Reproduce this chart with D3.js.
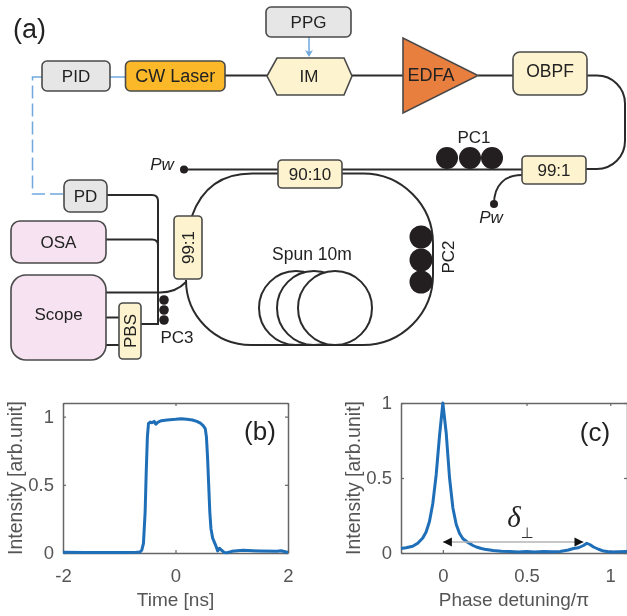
<!DOCTYPE html>
<html><head><meta charset="utf-8">
<script src="https://cdn.jsdelivr.net/npm/d3@7/dist/d3.min.js"></script>
<style>html,body{margin:0;padding:0;background:#fff;overflow:hidden}svg{display:block;filter:blur(0.45px)}text{font-family:"Liberation Sans",Arial,sans-serif}</style>
</head><body><svg id="c" width="627" height="616" viewBox="0 0 627 616"></svg>
<script>
// Panel (b) pulse
const timeNs=[-2,-1.6,-1.2,-0.9,-0.7,-0.63,-0.6,-0.57,-0.54,-0.52,-0.5,-0.48,-0.45,-0.42,-0.38,-0.35,-0.31,-0.25,-0.15,0,0.1,0.2,0.3,0.38,0.45,0.5,0.53,0.55,0.57,0.59,0.61,0.63,0.66,0.69,0.72,0.75,0.78,0.82,0.87,0.92,1.0,1.2,1.5,1.8,1.88,2];
const pulse=[0.005,0.004,0.003,0.004,0.005,0.008,0.02,0.07,0.3,0.6,0.85,0.95,0.96,0.955,0.965,0.945,0.96,0.97,0.975,0.98,0.985,0.98,0.975,0.965,0.95,0.93,0.91,0.85,0.7,0.5,0.3,0.18,0.11,0.08,0.05,0.015,0.035,0.02,0.003,0.002,0.012,0.02,0.015,0.012,0.016,0.004];
// Panel (c) spectrum
const detuning=[-0.25,-0.22,-0.18,-0.15,-0.12,-0.1,-0.08,-0.06,-0.04,-0.02,0,0.02,0.04,0.06,0.08,0.1,0.12,0.15,0.18,0.2,0.23,0.25,0.3,0.35,0.4,0.45,0.5,0.55,0.6,0.65,0.7,0.75,0.78,0.81,0.84,0.86,0.88,0.9,0.93,0.96,1,1.05,1.1];
const spectrum=[0.03,0.035,0.045,0.065,0.1,0.14,0.21,0.33,0.52,0.78,1,0.8,0.5,0.3,0.19,0.13,0.095,0.07,0.05,0.04,0.03,0.025,0.016,0.012,0.01,0.007,0.01,0.006,0.01,0.008,0.01,0.02,0.03,0.035,0.05,0.065,0.055,0.04,0.025,0.013,0.006,0.009,0.01];
const xTicksB=[-2,0,2], xTicksC=[0,0.5,1], yTicks=[0,0.5,1];
const greyFill="#E6E6E6", creamFill="#FDF3CF", pinkFill="#F6E2F0", stroke="#4a4a4a", wire="#2b2b2b", blue="#6FA8DC", ink="#222";

const svg=d3.select("#c");
const gWires=svg.append("g").attr("fill","none").attr("stroke",wire).attr("stroke-width",2);
const wire_=(d,w)=>gWires.append("path").attr("d",d).attr("stroke-width",w||2);

// Diagram wires
wire_("M225,75.5H267");
wire_("M352,75.5H403");
wire_("M478,75.5H513");
wire_("M587,75.5H597A28,28 0 0 1 625,103.5V141A28,28 0 0 1 597,169H586");
wire_("M184,169.5H522");
wire_("M342,173.5H363A70,70 0 0 1 433,243.5V275A70,70 0 0 1 363,345H251A65,65 0 0 1 186,280");
wire_("M278,173.5H252Q207,173.5 192,216");
wire_("M278,169.5H342");
wire_("M522,175C505,175 494,185 494,204");
wire_("M107,195H152Q158,195 158,201V324H141");
wire_("M106,239.5H152Q158,239.5 158,245");
wire_("M106,292.5H160Q176,292.5 186,282");
wire_("M106,317.5H119");
wire_("M106,345H119");
// Blue control lines
svg.append("path").attr("d","M110,77H125").attr("fill","none").attr("stroke",blue).attr("stroke-width",1.5);
svg.append("path").attr("d","M42,77H32.5V194H64").attr("fill","none").attr("stroke",blue).attr("stroke-width",1.5).attr("stroke-dasharray","13 5");
svg.append("path").attr("d","M309,37V53").attr("stroke",blue).attr("stroke-width",1.5).attr("fill","none");
svg.append("path").attr("d","M305,50L309,57L313,50L309,52Z").attr("fill",blue);

// Spools
[[296,308],[314,308],[335,308]].forEach(c=>svg.append("circle").attr("cx",c[0]).attr("cy",c[1]).attr("r",37).attr("fill","#fff").attr("stroke",wire).attr("stroke-width",2));

// Paddle controllers
const dots=[[447,158,11],[470,158,11],[492,158,11],[421,237,11.5],[421,260,11.5],[421,282,11.5],[164,300,4.8],[164,310,4.8],[164,320,4.8]];
dots.forEach(c=>svg.append("circle").attr("cx",c[0]).attr("cy",c[1]).attr("r",c[2]).attr("fill","#231f20"));
[[184,169.5],[494,204]].forEach(c=>svg.append("circle").attr("cx",c[0]).attr("cy",c[1]).attr("r",4).attr("fill","#231f20"));

function box(x,y,w,h,r,fill,label,opt){
  opt=opt||{};
  svg.append("rect").attr("x",x).attr("y",y).attr("width",w).attr("height",h).attr("rx",r).attr("fill",fill).attr("stroke",stroke).attr("stroke-width",1.6);
  if(!label) return;
  const cx=x+w/2+(opt.dx||0), cy=y+h/2+(opt.dy||0);
  const t=svg.append("text").attr("text-anchor","middle").attr("dominant-baseline","central").attr("font-size",opt.fs||17).attr("fill",ink).text(label);
  if(opt.rot) t.attr("transform",`translate(${cx},${cy}) rotate(${opt.rot})`); else t.attr("x",cx).attr("y",cy);
}
box(266,7,85,30,5,greyFill,"PPG");
box(42,61,68,30,5,greyFill,"PID");
box(125.5,61,99.5,30,5,"#FBB829","CW Laser",{fs:18});
box(513,52,74,43,7,creamFill,"OBPF",{dy:-3,fs:17.5});
box(522,156,64,28,4,creamFill,"99:1",{fs:17});
box(278,160,64,28,4,creamFill,"90:10",{fs:17});
box(174,216,28,63,4,creamFill,"99:1",{rot:-90});
box(64,180,43,32,6,greyFill,"PD");
box(11,221,95,42,9,pinkFill,"OSA");
box(11,275,95,85,15,pinkFill,"Scope",{dy:-3});
box(119,303,22,56,4,creamFill,"PBS",{rot:-90});
svg.append("path").attr("d","M267,76L277,58H344L352,76L344,95H277Z").attr("fill",creamFill).attr("stroke",stroke).attr("stroke-width",1.6);
svg.append("path").attr("d","M403,38V113L478,75.5Z").attr("fill","#E97F3E").attr("stroke",stroke).attr("stroke-width",1.6);

function label(x,y,s,o){o=o||{};const t=svg.append("text").attr("text-anchor",o.a||"middle").attr("dominant-baseline","central").attr("font-size",o.fs||17).attr("fill",o.c||ink).attr("font-style",o.it?"italic":null).text(s);
 if(o.rot) t.attr("transform",`translate(${x},${y}) rotate(${o.rot})`); else t.attr("x",x).attr("y",y); return t;}
label(309,76,"IM");
label(431,75,"EDFA",{fs:18});
label(474,137,"PC1");
label(448,257,"PC2",{rot:-90});
label(177,337,"PC3");
label(312,254,"Spun 10m",{fs:17.5});
label(162,164,"Pw",{it:true});
label(491,217,"Pw",{it:true});
label(13,29,"(a)",{a:"start",fs:27});

// Plots
function plot(x0,x1,xDomain,yDomain,xs,ys,xt,yt,xlab,ylx){
  const x=d3.scaleLinear().domain(xDomain).range([x0,x1]);
  const y=d3.scaleLinear().domain(yDomain).range([553,403]);
  const g=svg.append("g");
  const fmt=d=>String(d);
  const style=s=>{s.select(".domain").attr("stroke","#666").attr("stroke-width",1.5);s.selectAll("line").attr("stroke","#666").attr("stroke-width",1.2);s.selectAll("text").attr("font-size",18.5).attr("fill","#555").style("font-family",'"Liberation Sans",Arial,sans-serif');};
  g.append("g").attr("transform","translate(0,553)").call(d3.axisBottom(x).tickValues(xt).tickFormat(fmt).tickSize(-3).tickSizeOuter(0).tickPadding(16)).call(style);
  g.append("g").attr("transform","translate(0,403)").call(d3.axisTop(x).tickValues(xt).tickFormat("").tickSize(-3).tickSizeOuter(0)).call(style);
  g.append("g").attr("transform",`translate(${x0},0)`).call(d3.axisLeft(y).tickValues(yt).tickFormat(fmt).tickSize(-3).tickSizeOuter(0).tickPadding(9)).call(style);
  g.append("g").attr("transform",`translate(${x1},0)`).call(d3.axisRight(y).tickValues(yt).tickFormat("").tickSize(-3).tickSizeOuter(0)).call(style);
  const line=d3.line().x((d,i)=>x(xs[i])).y((d,i)=>y(ys[i]));
  g.append("path").attr("d",line(xs)).attr("fill","none").attr("stroke","#1F6FB8").attr("stroke-width",3).attr("stroke-linejoin","round");
  label((x0+x1)/2,599,xlab,{fs:19,c:"#555"});
  label(ylx,478,"Intensity [arb.unit]",{fs:19.5,c:"#555",rot:-90});
  return {x,y};
}
plot(63,288,[-2,2],[0,1.1],timeNs,pulse,xTicksB,yTicks,"Time [ns]",15);
const pc=plot(401,627,[-0.25,1.1],[0,1],detuning,spectrum,xTicksC,yTicks,"Phase detuning/π",353);
label(260,431,"(b)",{fs:26});
label(595,432,"(c)",{fs:26});

// Separation arrow
svg.append("path").attr("d",`M${pc.x(0)},542H${pc.x(0.84)}`).attr("stroke","#b5b5b5").attr("stroke-width",1.5).attr("fill","none");
svg.append("path").attr("d",`M${pc.x(0)},542l9,-4.5v9Z`).attr("fill","#111");
svg.append("path").attr("d",`M${pc.x(0.84)},542l-9,-4.5v9Z`).attr("fill","#111");
label(514,517,"δ",{fs:29,it:true,c:"#222"}).style("font-family","'Liberation Serif',serif");
label(527,533,"⊥",{fs:15,c:"#333"}).style("font-family","'DejaVu Sans',sans-serif");
</script></body></html>
